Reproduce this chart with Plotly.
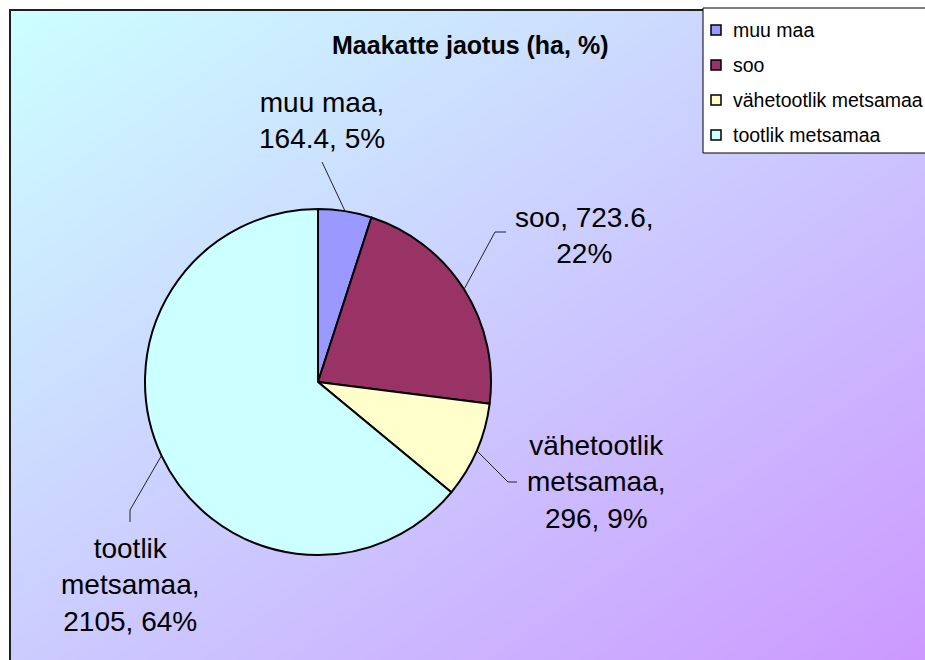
import math
import plotly.graph_objects as go

# ---- data ----
labels = ["muu maa", "soo", "vähetootlik metsamaa", "tootlik metsamaa"]
values = [164.4, 723.6, 296, 2105]
label_names = ["muu maa,", "soo,", "vähetootlik<br>metsamaa,", "tootlik<br>metsamaa,"]
colors = ["#9999FF", "#993366", "#FFFFCC", "#CCFFFF"]
title = "Maakatte jaotus (ha, %)"

W, H = 925, 660
FONT = "Liberation Sans, Arial, sans-serif"


def px(x):
    return x / W


def py(y):
    return 1 - y / H


# pie geometry (pixels)
CX, CY, R = 318, 382, 173

fig = go.Figure()

# gradient background on a hidden cartesian layer
fig.add_trace(go.Heatmap(
    x=[0, 1], y=[0, 1], z=[[0.5, 1.0], [0.0, 0.5]],
    colorscale=[[0, "#CCFFFF"], [0.5, "#CCCCFF"], [1, "#CC99FF"]],
    zsmooth="best", showscale=False, hoverinfo="skip",
))

fig.add_trace(go.Pie(
    labels=labels, values=values, sort=False, direction="clockwise", rotation=0,
    marker=dict(colors=colors, line=dict(color="#000000", width=2)),
    textinfo="none", hoverinfo="label+value+percent", showlegend=False,
    domain=dict(x=[px(CX - R), px(CX + R)], y=[py(CY + R), py(CY - R)]),
))

total = sum(values)
pcts = [round(v / total * 100) for v in values]
label_texts = [f"{n}<br>{v:g}, {p}%" if i != 1 else f"{n} {v:g},<br>{p}%"
               for i, (n, v, p) in enumerate(zip(label_names, values, pcts))]

# label centres and leader bends (pixels)
label_pos = [(322, 120), (584, 235), (596, 482), (130, 585)]
leader_pts = [[(322, 162)], [(495, 232), (506, 232)], [(508, 482), (517, 482)], [(130, 510), (130, 522)]]

shapes = []
# chart area border
shapes.append(dict(type="rect", xref="paper", yref="paper", x0=px(10), x1=px(940), y0=py(680), y1=py(10),
                   line=dict(color="#202020", width=2), fillcolor="rgba(0,0,0,0)", layer="above"))

cum = 0
for i, v in enumerate(values):
    a = (cum + v / 2) / total * 2 * math.pi
    cum += v
    pts = [(CX + R * math.sin(a), CY - R * math.cos(a))] + leader_pts[i]
    for (x0, y0), (x1, y1) in zip(pts[:-1], pts[1:]):
        shapes.append(dict(type="line", xref="paper", yref="paper", x0=px(x0), y0=py(y0), x1=px(x1), y1=py(y1),
                           line=dict(color="#222222", width=1), layer="above"))

annotations = []
for t, (x, y) in zip(label_texts, label_pos):
    annotations.append(dict(text=t, x=px(x), y=py(y), xref="paper", yref="paper", showarrow=False,
                            xanchor="center", yanchor="middle", align="center",
                            font=dict(family=FONT, size=28, color="#000000")))

annotations.append(dict(text=f"<b>{title}</b>", x=px(470), y=py(45), xref="paper", yref="paper", showarrow=False,
                        xanchor="center", yanchor="middle", font=dict(family=FONT, size=25, color="#000000")))

# manual legend
shapes.append(dict(type="rect", xref="paper", yref="paper", x0=px(703), x1=px(940), y0=py(153), y1=py(8),
                   line=dict(color="#000000", width=1), fillcolor="#FFFFFF", layer="above"))
leg_y = [30, 65, 100, 135]
for lab, col, y in zip(labels, colors, leg_y):
    shapes.append(dict(type="rect", xref="paper", yref="paper", x0=px(711), x1=px(721), y0=py(y + 5), y1=py(y - 5),
                       line=dict(color="#000000", width=1.5), fillcolor=col, layer="above"))
    annotations.append(dict(text=lab, x=px(731), y=py(y), xref="paper", yref="paper", showarrow=False,
                            xanchor="left", yanchor="middle", font=dict(family=FONT, size=19.5, color="#000000")))

fig.update_layout(
    width=W, height=H, margin=dict(l=0, r=0, t=0, b=0),
    paper_bgcolor="#FFFFFF", plot_bgcolor="rgba(0,0,0,0)",
    xaxis=dict(domain=[px(11), 1], range=[0, 1], visible=False, fixedrange=True),
    yaxis=dict(domain=[0, py(11)], range=[0, 1], visible=False, fixedrange=True),
    shapes=shapes, annotations=annotations, showlegend=False,
)

fig.write_html("out.html", config={"displayModeBar": False},
               post_script="document.body.style.margin='0';document.body.style.overflow='hidden';")
